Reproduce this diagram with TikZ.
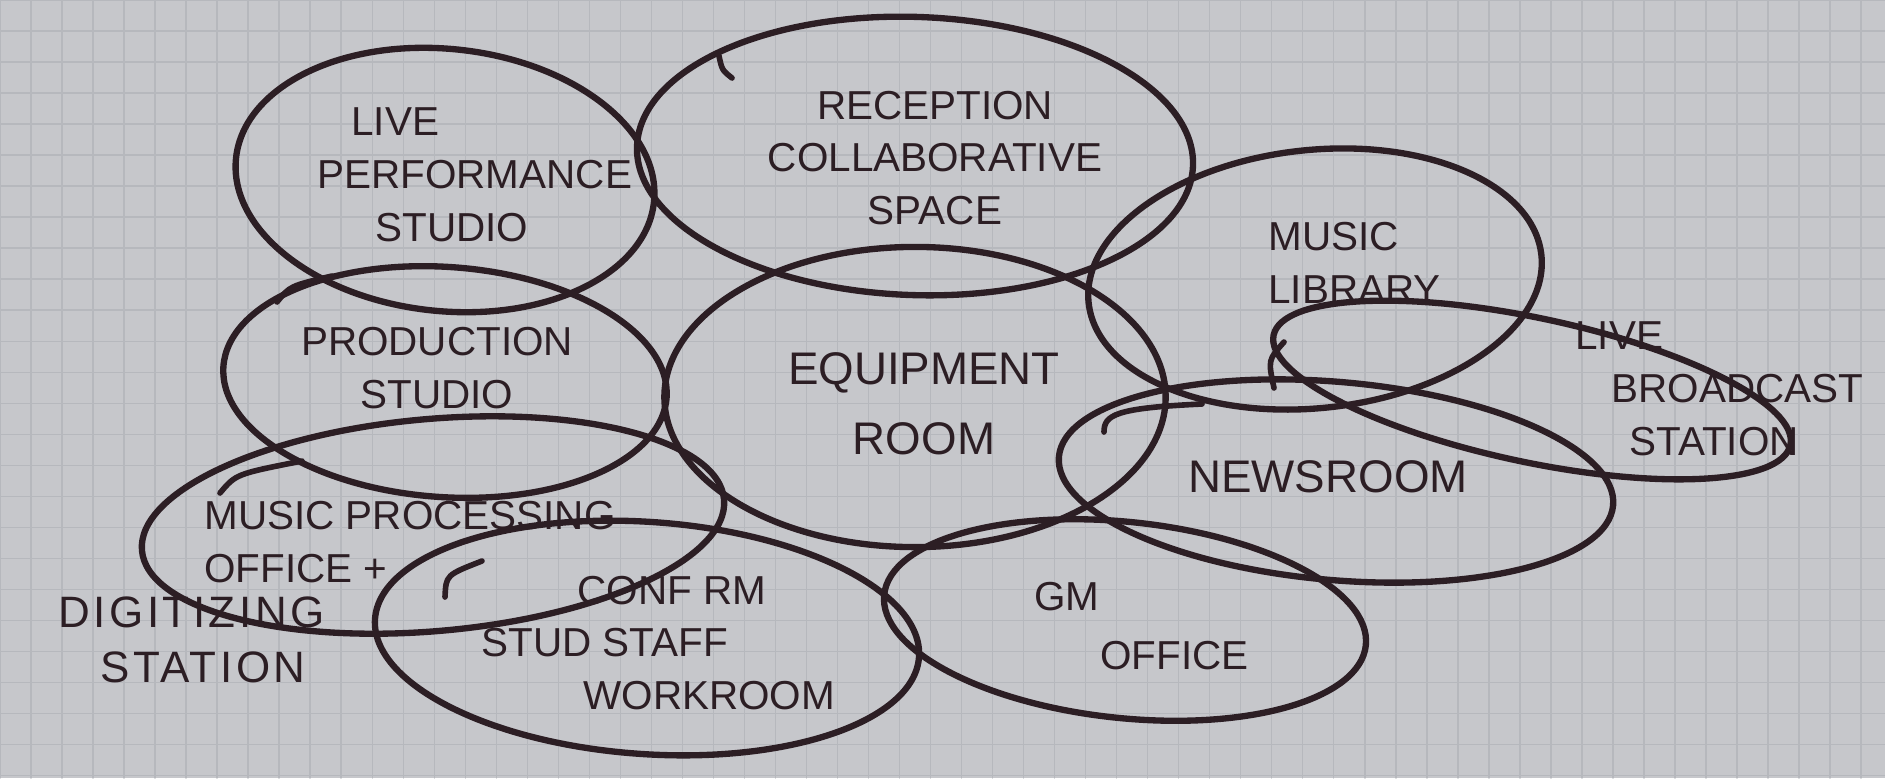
\documentclass[tikz,border=0pt]{standalone}
\usepackage{fontspec}
\setmainfont{Liberation Sans}
\usetikzlibrary{shapes.geometric}
\definecolor{ink}{RGB}{44,30,36}
\definecolor{paper}{RGB}{198,199,203}
\definecolor{rule}{RGB}{182,184,189}
\tikzset{room/.style={ellipse,draw=ink,line width=1.8pt,inner sep=0pt},
	tail/.style={draw=ink,line width=1.6pt},
	tag/.style={text=ink,align=center,font=\fontsize{11.5}{15}\selectfont},
	bigtag/.style={tag,font=\fontsize{13}{20}\selectfont}}
\begin{document}
\begin{tikzpicture}[x=0.01cm,y=-0.01cm,line join=round,line cap=round]
	\useasboundingbox (0,0) rectangle (1885,778);
	\fill[paper] (0,0) rectangle (1885,778);
	\draw[rule,line width=0.4pt,step=0.31cm] (0,778) grid (1885,0);
	% bubbles
	\node[room,minimum width=4.2cm,minimum height=2.62cm,rotate=-6] (live) at (445,180) {};
	\node[room,minimum width=5.56cm,minimum height=2.78cm,rotate=-2] (recep) at (915,156) {};
	\node[room,minimum width=4.55cm,minimum height=2.58cm,rotate=6] (lib) at (1315,279) {};
	\node[room,minimum width=5.28cm,minimum height=1.44cm,rotate=-12] (bcast) at (1532,390) {};
	\node[room,minimum width=4.44cm,minimum height=2.3cm,rotate=-4] (prod) at (445,382) {};
	\node[room,minimum width=5.01cm,minimum height=3cm] (equip) at (915,397) {};
	\node[room,minimum width=5.56cm,minimum height=1.98cm,rotate=-5] (news) at (1336,481) {};
	\node[room,minimum width=5.84cm,minimum height=2.12cm,rotate=5] (proc) at (433,525) {};
	\node[room,minimum width=5.45cm,minimum height=2.32cm,rotate=-4] (conf) at (647,638) {};
	\node[room,minimum width=4.84cm,minimum height=1.96cm,rotate=-6] (gm) at (1125,620) {};
	% pen ends
	\draw[tail] (719,56) .. controls (722,70) .. (732,78);
	\draw[tail] (277,302) .. controls (290,286) .. (332,276);
	\draw[tail] (220,493) .. controls (236,474) .. (302,461);
	\draw[tail] (445,597) .. controls (446,575) .. (482,561);
	\draw[tail] (1104,432) .. controls (1104,415) and (1115,408) .. (1202,404);
	\draw[tail] (1284,342) .. controls (1268,360) .. (1274,388);
	% labels
	\node[tag,anchor=west,align=left] (t-live) at (305,175) {\hspace{0.34cm}LIVE\\PERFORMANCE\\\hspace{0.58cm}STUDIO};
	\node[tag] (t-recep) at (935,158) {RECEPTION\\COLLABORATIVE\\SPACE};
	\node[tag,anchor=west,align=left] (t-lib) at (1256,263) {MUSIC\\LIBRARY};
	\node[tag,anchor=west,align=left] (t-bcast) at (1563,389) {LIVE\\\hspace{0.36cm}BROADCAST\\\hspace{0.54cm}STATION};
	\node[tag] (t-prod) at (437,368) {PRODUCTION\\STUDIO};
	\node[bigtag] (t-equip) at (924,404) {EQUIPMENT\\ROOM};
	\node[bigtag] (t-news) at (1328,477) {NEWSROOM};
	\node[tag,anchor=west,align=left] (t-proc) at (192,542) {MUSIC PROCESSING\\OFFICE +};
	\node[tag,anchor=west,align=left,font=\fontsize{12.5}{15.5}\selectfont\addfontfeature{LetterSpace=8}] (t-digit) at (46,640) {DIGITIZING\\\hspace{0.42cm}STATION};
	\node[tag,anchor=west,align=left] (t-conf) at (469,643) {\hspace{0.96cm}CONF RM\\STUD STAFF\\\hspace{1.02cm}WORKROOM};
	\node[tag,anchor=west,align=left,font=\fontsize{11.5}{17}\selectfont] (t-gm) at (1022,626) {GM\\\hspace{0.66cm}OFFICE};
\end{tikzpicture}
\end{document}
